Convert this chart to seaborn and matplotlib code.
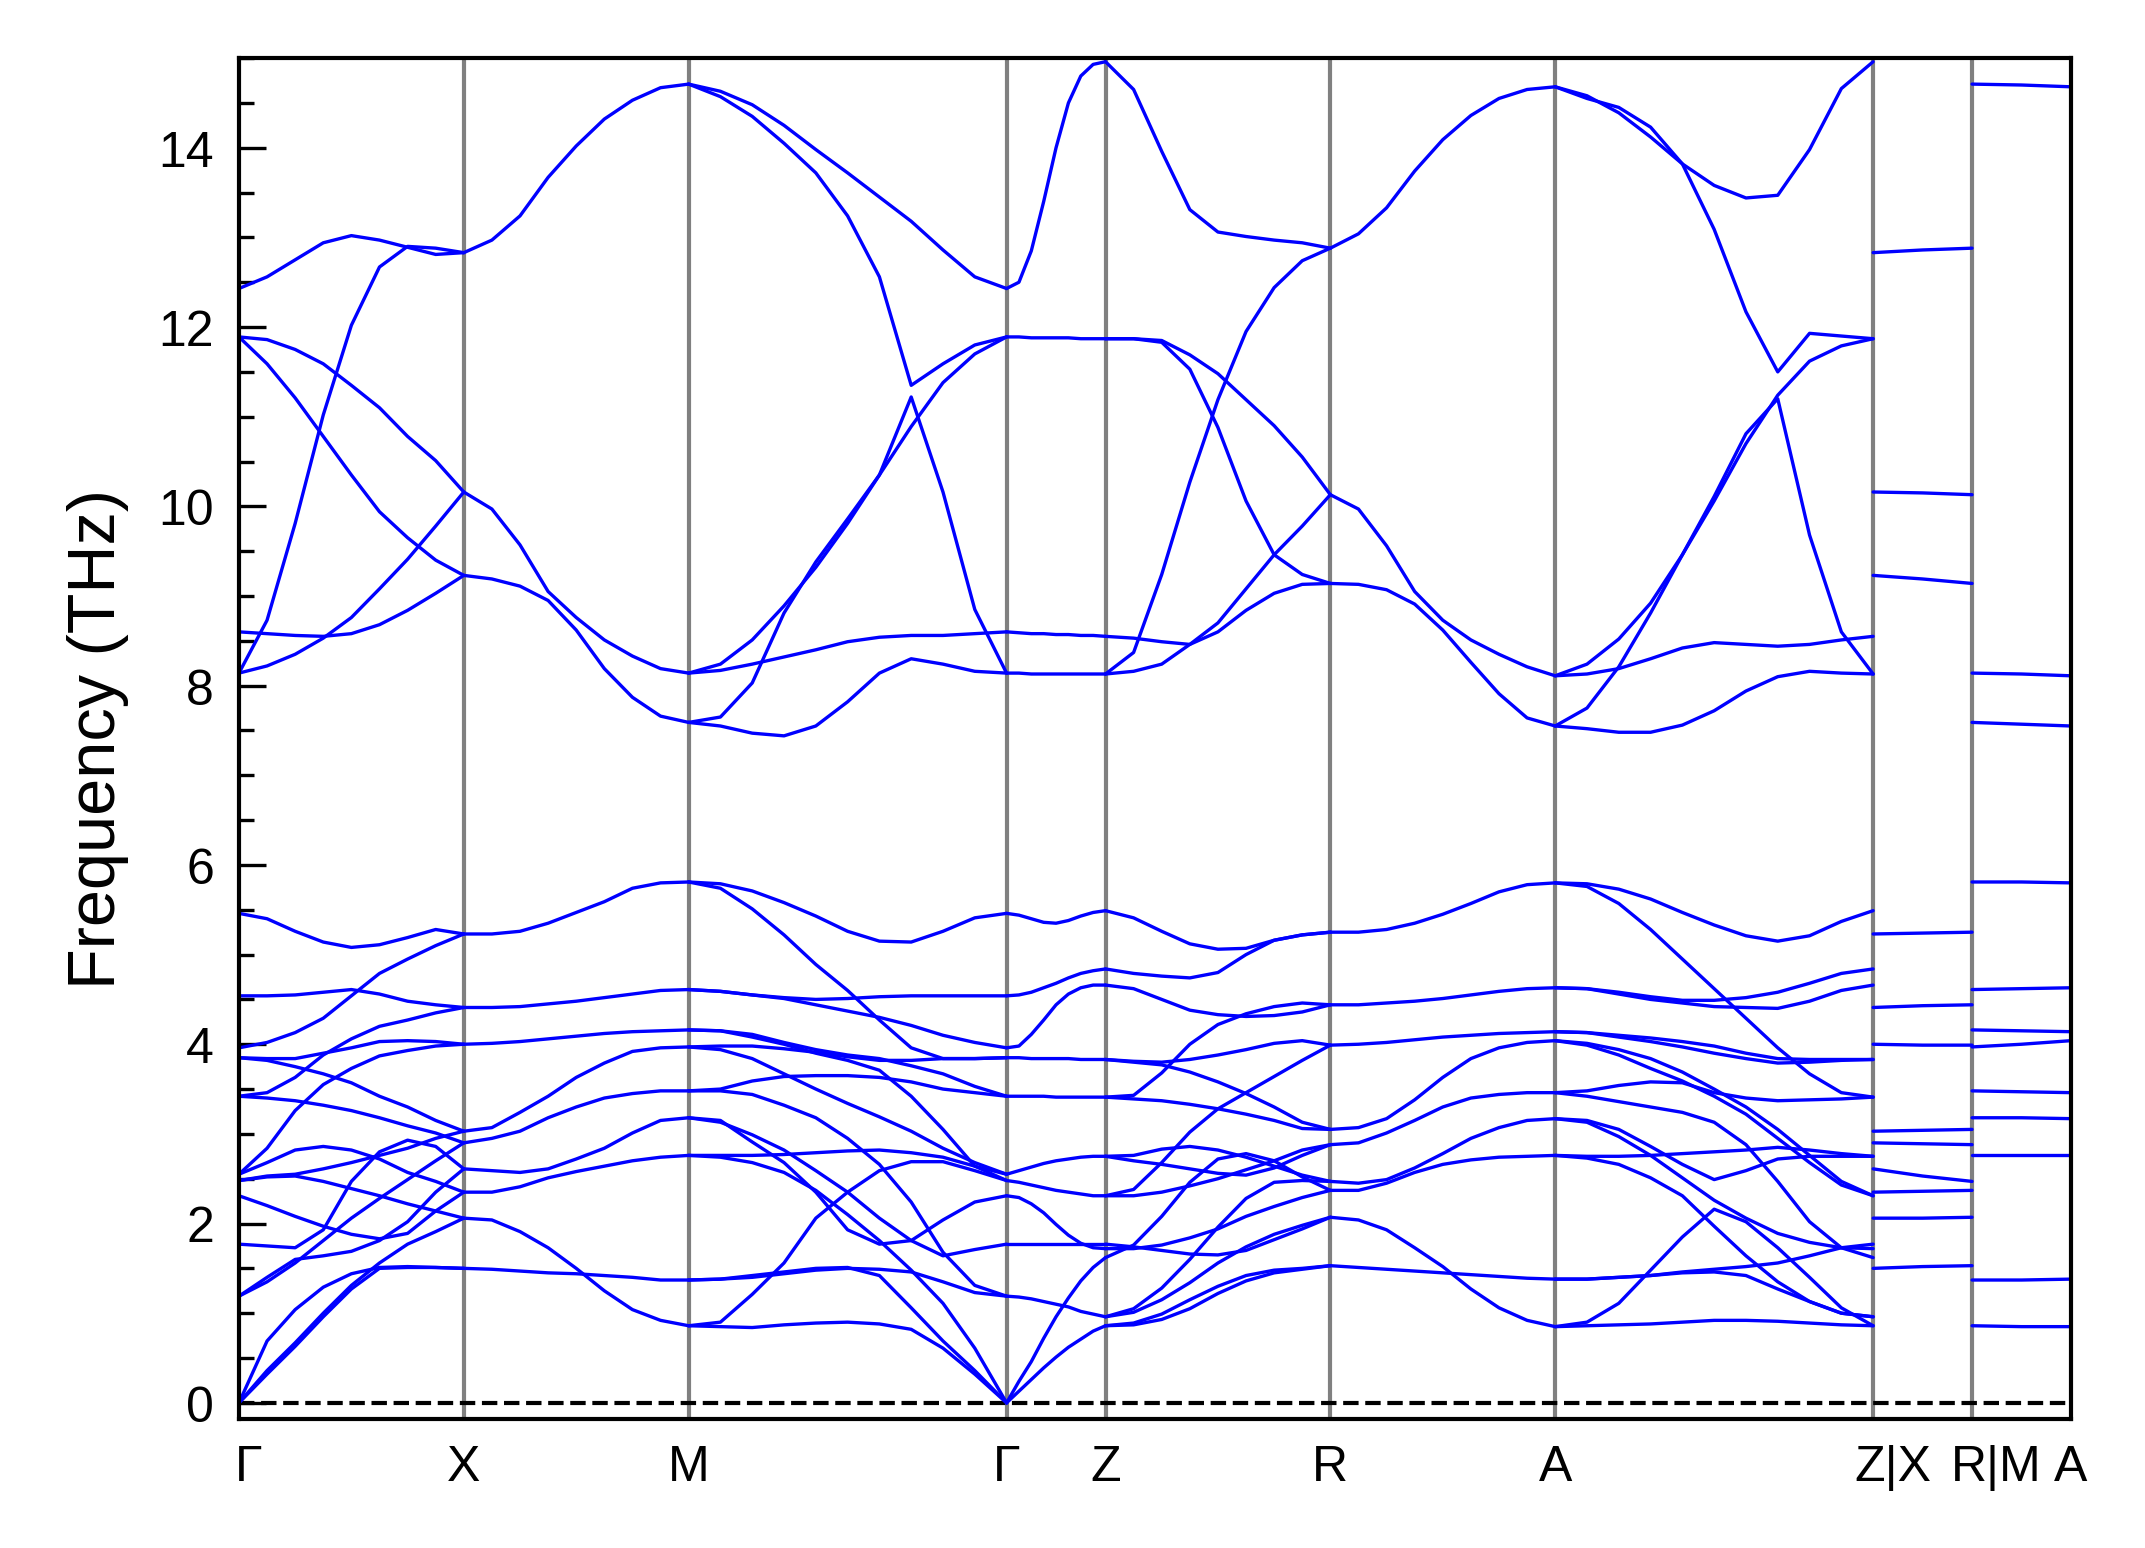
import numpy as np
import pandas as pd
import matplotlib
matplotlib.use("Agg")
import matplotlib.pyplot as plt
from matplotlib.ticker import MultipleLocator
from matplotlib.transforms import ScaledTranslation
import seaborn as sns

# high-symmetry path
path_labels = ["Γ", "X", "M", "Γ", "Z", "R", "A", "Z|X", "R|M", "A"]
seg_len = [1.0, 1.0, 1.414, 0.44, 1.0, 1.0, 1.414, 0.44, 0.44]

# frequencies (THz) read along each segment, one list per band
gx_low = [
    [5.46, 5.40, 5.26, 5.14, 5.08, 5.11, 5.19, 5.28, 5.23],
    [4.54, 4.54, 4.55, 4.58, 4.61, 4.56, 4.48, 4.44, 4.41],
    [3.96, 4.02, 4.13, 4.29, 4.54, 4.79, 4.95, 5.10, 5.23],
    [3.85, 3.84, 3.84, 3.90, 3.96, 4.03, 4.04, 4.03, 4.00],
    [3.42, 3.46, 3.63, 3.88, 4.06, 4.20, 4.27, 4.35, 4.41],
    [3.85, 3.82, 3.75, 3.67, 3.57, 3.42, 3.30, 3.15, 3.03],
    [3.42, 3.40, 3.37, 3.32, 3.26, 3.18, 3.09, 3.01, 2.90],
    [2.55, 2.84, 3.26, 3.55, 3.73, 3.87, 3.93, 3.98, 4.00],
    [2.55, 2.68, 2.82, 2.86, 2.82, 2.72, 2.57, 2.47, 2.35],
    [2.48, 2.53, 2.55, 2.61, 2.68, 2.76, 2.84, 2.95, 3.03],
    [2.48, 2.52, 2.53, 2.47, 2.39, 2.31, 2.22, 2.14, 2.06],
    [2.31, 2.20, 2.08, 1.97, 1.88, 1.83, 1.89, 2.14, 2.35],
    [1.77, 1.75, 1.73, 1.93, 2.47, 2.80, 2.93, 2.86, 2.61],
    [1.19, 1.40, 1.60, 1.64, 1.69, 1.81, 2.02, 2.35, 2.61],
    [1.19, 1.35, 1.56, 1.81, 2.06, 2.28, 2.49, 2.70, 2.90],
    [0.00, 0.69, 1.04, 1.29, 1.44, 1.51, 1.52, 1.51, 1.50],
    [0.00, 0.36, 0.67, 1.00, 1.31, 1.56, 1.77, 1.91, 2.06],
    [0.00, 0.32, 0.63, 0.96, 1.27, 1.50, 1.51, 1.51, 1.50],
]
gx_high = [
    [12.43, 12.56, 12.75, 12.94, 13.02, 12.97, 12.89, 12.81, 12.83],
    [8.14, 8.73, 9.81, 11.02, 12.02, 12.67, 12.90, 12.88, 12.83],
    [11.89, 11.86, 11.75, 11.59, 11.35, 11.10, 10.78, 10.51, 10.16],
    [11.89, 11.59, 11.21, 10.78, 10.35, 9.94, 9.65, 9.40, 9.23],
    [8.60, 8.58, 8.56, 8.55, 8.58, 8.68, 8.84, 9.03, 9.23],
    [8.14, 8.22, 8.35, 8.53, 8.76, 9.08, 9.41, 9.78, 10.16],
]
xm_bands = [
    [5.23, 5.23, 5.26, 5.35, 5.47, 5.59, 5.74, 5.80, 5.81],
    [4.41, 4.41, 4.42, 4.45, 4.48, 4.52, 4.56, 4.60, 4.61],
    [4.00, 4.01, 4.03, 4.06, 4.09, 4.12, 4.14, 4.15, 4.16],
    [3.03, 3.07, 3.24, 3.42, 3.63, 3.79, 3.92, 3.96, 3.97],
    [2.90, 2.95, 3.03, 3.18, 3.30, 3.40, 3.45, 3.48, 3.48],
    [2.61, 2.59, 2.57, 2.61, 2.72, 2.84, 3.01, 3.15, 3.18],
    [2.35, 2.35, 2.41, 2.51, 2.58, 2.64, 2.70, 2.74, 2.76],
    [2.06, 2.04, 1.91, 1.73, 1.50, 1.25, 1.04, 0.92, 0.86],
    [1.50, 1.49, 1.47, 1.45, 1.44, 1.42, 1.40, 1.37, 1.37],
    [12.83, 12.97, 13.24, 13.67, 14.02, 14.32, 14.53, 14.67, 14.71],
    [10.16, 9.97, 9.57, 9.05, 8.76, 8.51, 8.33, 8.19, 8.14],
    [9.23, 9.19, 9.11, 8.95, 8.62, 8.19, 7.87, 7.66, 7.59],
]
mg_low = [
    [5.81, 5.79, 5.71, 5.58, 5.43, 5.26, 5.15, 5.14, 5.26, 5.41, 5.46],
    [5.81, 5.74, 5.51, 5.22, 4.89, 4.60, 4.27, 3.96, 3.84, 3.84, 3.85],
    [4.61, 4.59, 4.55, 4.52, 4.50, 4.51, 4.53, 4.54, 4.54, 4.54, 4.54],
    [4.61, 4.59, 4.55, 4.51, 4.44, 4.37, 4.30, 4.21, 4.10, 4.02, 3.96],
    [4.16, 4.15, 4.11, 4.02, 3.94, 3.88, 3.84, 3.76, 3.67, 3.53, 3.42],
    [4.16, 4.15, 4.08, 4.00, 3.90, 3.82, 3.71, 3.42, 3.05, 2.64, 2.48],
    [3.97, 3.98, 3.98, 3.95, 3.91, 3.86, 3.82, 3.82, 3.84, 3.84, 3.85],
    [3.97, 3.94, 3.84, 3.67, 3.50, 3.34, 3.19, 3.03, 2.84, 2.68, 2.55],
    [3.48, 3.50, 3.59, 3.64, 3.65, 3.65, 3.63, 3.58, 3.50, 3.46, 3.42],
    [3.48, 3.48, 3.44, 3.32, 3.18, 2.95, 2.66, 2.24, 1.68, 1.31, 1.19],
    [3.18, 3.15, 2.91, 2.68, 2.35, 1.93, 1.77, 1.81, 2.04, 2.24, 2.31],
    [3.18, 3.13, 2.99, 2.82, 2.59, 2.35, 2.06, 1.81, 1.64, 1.71, 1.77],
    [2.76, 2.76, 2.76, 2.77, 2.79, 2.81, 2.82, 2.79, 2.74, 2.64, 2.55],
    [2.76, 2.74, 2.68, 2.57, 2.37, 2.10, 1.81, 1.48, 1.11, 0.61, 0.00],
    [1.37, 1.38, 1.40, 1.44, 1.48, 1.50, 1.49, 1.46, 1.35, 1.23, 1.19],
    [1.37, 1.38, 1.42, 1.46, 1.50, 1.51, 1.42, 1.06, 0.69, 0.36, 0.00],
    [0.86, 0.90, 1.21, 1.56, 2.06, 2.35, 2.59, 2.69, 2.69, 2.59, 2.48],
    [0.86, 0.85, 0.84, 0.87, 0.89, 0.90, 0.88, 0.82, 0.61, 0.32, 0.00],
]
mg_high = [
    [14.71, 14.63, 14.48, 14.25, 13.98, 13.72, 13.45, 13.18, 12.86, 12.56, 12.43],
    [14.71, 14.57, 14.35, 14.05, 13.72, 13.24, 12.56, 11.35, 11.59, 11.80, 11.89],
    [7.59, 7.65, 8.03, 8.81, 9.38, 9.86, 10.35, 11.22, 10.16, 8.85, 8.14],
    [8.14, 8.24, 8.51, 8.89, 9.32, 9.81, 10.35, 10.89, 11.38, 11.70, 11.89],
    [7.59, 7.55, 7.47, 7.44, 7.55, 7.82, 8.14, 8.30, 8.24, 8.16, 8.14],
    [8.14, 8.17, 8.24, 8.32, 8.40, 8.49, 8.54, 8.56, 8.56, 8.58, 8.60],
]
gz_low = [
    [5.46, 5.44, 5.40, 5.36, 5.35, 5.38, 5.43, 5.47, 5.49],
    [4.54, 4.55, 4.58, 4.63, 4.68, 4.74, 4.79, 4.82, 4.84],
    [3.96, 3.98, 4.11, 4.27, 4.44, 4.56, 4.63, 4.66, 4.66],
    [3.85, 3.85, 3.84, 3.84, 3.84, 3.84, 3.83, 3.83, 3.83],
    [3.42, 3.42, 3.42, 3.42, 3.41, 3.41, 3.41, 3.41, 3.41],
    [2.55, 2.59, 2.63, 2.67, 2.70, 2.72, 2.74, 2.75, 2.75],
    [2.48, 2.46, 2.43, 2.40, 2.37, 2.35, 2.33, 2.31, 2.31],
    [2.31, 2.29, 2.22, 2.12, 1.99, 1.87, 1.78, 1.73, 1.72],
    [1.77, 1.77, 1.77, 1.77, 1.77, 1.77, 1.77, 1.77, 1.77],
    [1.19, 1.18, 1.16, 1.13, 1.10, 1.07, 1.02, 0.99, 0.96],
    [0.00, 0.13, 0.26, 0.39, 0.51, 0.62, 0.71, 0.80, 0.86],
    [0.00, 0.24, 0.46, 0.72, 0.96, 1.17, 1.36, 1.51, 1.62],
]
gz_high = [
    [12.43, 12.50, 12.85, 13.40, 14.00, 14.50, 14.80, 14.93, 14.96],
    [11.89, 11.89, 11.88, 11.88, 11.88, 11.88, 11.87, 11.87, 11.87],
    [8.60, 8.59, 8.58, 8.58, 8.57, 8.57, 8.56, 8.56, 8.55],
    [8.14, 8.14, 8.13, 8.13, 8.13, 8.13, 8.13, 8.13, 8.13],
]
zr_low = [
    [5.49, 5.41, 5.26, 5.12, 5.06, 5.07, 5.16, 5.22, 5.25],
    [4.84, 4.79, 4.76, 4.74, 4.80, 5.00, 5.16, 5.22, 5.25],
    [4.66, 4.62, 4.50, 4.38, 4.33, 4.31, 4.32, 4.36, 4.44],
    [3.41, 3.43, 3.68, 4.00, 4.22, 4.34, 4.42, 4.46, 4.44],
    [3.83, 3.81, 3.80, 3.83, 3.88, 3.94, 4.01, 4.04, 3.99],
    [3.83, 3.80, 3.77, 3.69, 3.58, 3.45, 3.30, 3.13, 3.05],
    [3.41, 3.39, 3.37, 3.33, 3.28, 3.22, 3.15, 3.06, 3.05],
    [2.31, 2.38, 2.68, 3.02, 3.28, 3.46, 3.64, 3.82, 3.99],
    [2.75, 2.76, 2.83, 2.86, 2.82, 2.74, 2.64, 2.54, 2.47],
    [2.75, 2.70, 2.66, 2.61, 2.56, 2.54, 2.62, 2.76, 2.88],
    [2.31, 2.31, 2.35, 2.42, 2.50, 2.60, 2.70, 2.82, 2.88],
    [1.77, 1.74, 1.70, 1.66, 1.65, 1.70, 1.82, 1.94, 2.07],
    [1.72, 1.72, 1.76, 1.84, 1.94, 2.08, 2.19, 2.29, 2.37],
    [1.62, 1.76, 2.08, 2.46, 2.72, 2.78, 2.70, 2.52, 2.37],
    [0.96, 1.05, 1.28, 1.60, 1.96, 2.28, 2.46, 2.48, 2.47],
    [0.96, 1.01, 1.15, 1.34, 1.56, 1.74, 1.88, 1.98, 2.07],
    [0.86, 0.89, 0.99, 1.15, 1.30, 1.42, 1.48, 1.50, 1.53],
    [0.86, 0.87, 0.93, 1.05, 1.22, 1.36, 1.45, 1.49, 1.53],
]
zr_high = [
    [14.96, 14.65, 13.96, 13.31, 13.06, 13.01, 12.97, 12.94, 12.88],
    [8.13, 8.37, 9.24, 10.27, 11.19, 11.95, 12.44, 12.74, 12.88],
    [11.87, 11.87, 11.83, 11.53, 10.88, 10.06, 9.46, 9.24, 9.14],
    [11.87, 11.87, 11.85, 11.69, 11.48, 11.19, 10.90, 10.55, 10.13],
    [8.55, 8.53, 8.49, 8.46, 8.60, 8.84, 9.03, 9.13, 9.14],
    [8.13, 8.16, 8.24, 8.46, 8.70, 9.08, 9.46, 9.78, 10.13],
]
ra_bands = [
    [5.25, 5.25, 5.28, 5.35, 5.45, 5.57, 5.70, 5.78, 5.80],
    [4.44, 4.44, 4.46, 4.48, 4.51, 4.55, 4.59, 4.62, 4.63],
    [3.99, 4.00, 4.02, 4.05, 4.08, 4.10, 4.12, 4.13, 4.14],
    [3.05, 3.07, 3.17, 3.38, 3.63, 3.84, 3.96, 4.02, 4.04],
    [2.88, 2.90, 3.01, 3.15, 3.30, 3.40, 3.44, 3.46, 3.46],
    [2.47, 2.45, 2.49, 2.62, 2.78, 2.95, 3.07, 3.15, 3.17],
    [2.37, 2.37, 2.45, 2.57, 2.66, 2.71, 2.74, 2.75, 2.76],
    [2.07, 2.04, 1.93, 1.73, 1.52, 1.27, 1.06, 0.92, 0.85],
    [1.53, 1.51, 1.49, 1.47, 1.45, 1.43, 1.41, 1.39, 1.38],
    [12.88, 13.04, 13.33, 13.74, 14.09, 14.36, 14.55, 14.65, 14.68],
    [10.13, 9.97, 9.56, 9.05, 8.73, 8.51, 8.35, 8.21, 8.11],
    [9.14, 9.13, 9.07, 8.91, 8.62, 8.26, 7.91, 7.64, 7.55],
]
az_low = [
    [5.80, 5.79, 5.73, 5.62, 5.47, 5.33, 5.21, 5.15, 5.21, 5.37, 5.49],
    [5.80, 5.76, 5.57, 5.28, 4.95, 4.62, 4.29, 3.96, 3.67, 3.46, 3.41],
    [4.63, 4.62, 4.56, 4.50, 4.46, 4.42, 4.41, 4.40, 4.48, 4.60, 4.66],
    [4.63, 4.62, 4.58, 4.53, 4.49, 4.49, 4.52, 4.58, 4.68, 4.79, 4.84],
    [4.14, 4.13, 4.10, 4.07, 4.03, 3.98, 3.90, 3.84, 3.83, 3.83, 3.83],
    [4.14, 4.13, 4.08, 4.03, 3.97, 3.90, 3.84, 3.79, 3.80, 3.82, 3.83],
    [4.04, 4.01, 3.94, 3.84, 3.69, 3.50, 3.30, 3.05, 2.76, 2.47, 2.31],
    [4.04, 3.99, 3.88, 3.73, 3.59, 3.42, 3.22, 2.95, 2.68, 2.43, 2.31],
    [3.46, 3.48, 3.54, 3.58, 3.57, 3.46, 3.40, 3.37, 3.38, 3.39, 3.41],
    [3.46, 3.42, 3.36, 3.30, 3.24, 3.13, 2.88, 2.47, 2.02, 1.73, 1.62],
    [3.17, 3.15, 3.05, 2.86, 2.66, 2.49, 2.59, 2.72, 2.75, 2.75, 2.75],
    [3.17, 3.13, 2.97, 2.76, 2.51, 2.26, 2.06, 1.89, 1.79, 1.73, 1.72],
    [2.76, 2.75, 2.75, 2.76, 2.78, 2.80, 2.82, 2.85, 2.82, 2.78, 2.75],
    [2.76, 2.73, 2.66, 2.51, 2.31, 1.97, 1.64, 1.35, 1.13, 1.00, 0.96],
    [1.38, 1.38, 1.40, 1.42, 1.46, 1.49, 1.52, 1.56, 1.64, 1.73, 1.77],
    [1.38, 1.38, 1.40, 1.42, 1.45, 1.46, 1.42, 1.27, 1.13, 1.00, 0.96],
    [0.85, 0.90, 1.11, 1.48, 1.85, 2.16, 2.02, 1.73, 1.40, 1.06, 0.86],
    [0.85, 0.86, 0.87, 0.88, 0.90, 0.92, 0.92, 0.91, 0.89, 0.87, 0.86],
]
az_high = [
    [14.68, 14.58, 14.39, 14.12, 13.82, 13.58, 13.44, 13.47, 13.98, 14.66, 14.96],
    [14.68, 14.55, 14.45, 14.23, 13.82, 13.09, 12.17, 11.50, 11.93, 11.90, 11.87],
    [7.55, 7.75, 8.21, 8.81, 9.46, 10.11, 10.81, 11.20, 9.68, 8.60, 8.13],
    [8.11, 8.24, 8.52, 8.92, 9.46, 10.06, 10.70, 11.24, 11.62, 11.79, 11.87],
    [8.11, 8.13, 8.19, 8.30, 8.42, 8.48, 8.46, 8.44, 8.46, 8.51, 8.55],
    [7.55, 7.52, 7.48, 7.48, 7.56, 7.72, 7.94, 8.10, 8.16, 8.14, 8.13],
]
xr_bands = [
    [12.83, 12.86, 12.88], [10.16, 10.15, 10.13], [9.23, 9.19, 9.14],
    [5.23, 5.24, 5.25], [4.41, 4.43, 4.44], [4.00, 3.99, 3.99],
    [3.03, 3.04, 3.05], [2.90, 2.89, 2.88], [2.61, 2.53, 2.47],
    [2.35, 2.36, 2.37], [2.06, 2.06, 2.07], [1.50, 1.52, 1.53],
]
ma_bands = [
    [14.71, 14.70, 14.68], [8.14, 8.13, 8.11], [7.59, 7.57, 7.55],
    [5.81, 5.81, 5.80], [4.61, 4.62, 4.63], [4.16, 4.15, 4.14],
    [3.97, 4.00, 4.04], [3.48, 3.47, 3.46], [3.18, 3.18, 3.17],
    [2.76, 2.76, 2.76], [1.37, 1.37, 1.38], [0.86, 0.85, 0.85],
]

segments = [gx_low + gx_high, xm_bands, mg_low + mg_high, gz_low + gz_high,
            zr_low + zr_high, ra_bands, az_low + az_high, xr_bands, ma_bands]
pos = np.concatenate([[0.0], np.cumsum(seg_len)])

# long table: one line per (segment, band)
frames = []
for i, bands in enumerate(segments):
    for j, row in enumerate(bands):
        k = np.linspace(pos[i], pos[i + 1], len(row))
        frames.append(pd.DataFrame({"k": k, "freq": row, "line": f"{i}-{j}"}))
df = pd.concat(frames, ignore_index=True)

sns.set_style("ticks")
plt.rcParams["font.family"] = ["Liberation Sans", "DejaVu Sans"]
plt.rcParams.update({"text.color": "black", "axes.labelcolor": "black",
                     "xtick.color": "black", "ytick.color": "black"})

fig, ax = plt.subplots(figsize=(7.15, 5.163), dpi=300)
fig.subplots_adjust(left=0.1114, right=0.9655, bottom=0.0833, top=0.9619)

for p in pos[1:-1]:
    ax.axvline(p, color="#808080", lw=1.0, zorder=1)
ax.axhline(0, color="black", ls="--", lw=1.0, zorder=1)

sns.lineplot(data=df, x="k", y="freq", units="line", estimator=None,
             color="blue", lw=0.8, ax=ax, legend=False, zorder=2)

ax.set_xlim(pos[0], pos[-1])
ax.set_ylim(-0.18, 15.0)
ax.set_xticks(pos)
ax.set_xticklabels(path_labels)
ax.set_xlabel("")
ax.set_ylabel("Frequency (THz)", fontsize=16, labelpad=7, color="black")
ax.yaxis.set_major_locator(MultipleLocator(2))
ax.yaxis.set_minor_locator(MultipleLocator(0.5))
ax.tick_params(axis="y", which="major", direction="in", length=6.5, width=0.8,
               labelsize=12, pad=6, colors="black")
ax.tick_params(axis="y", which="minor", direction="in", length=3.5, width=0.8,
               colors="black")
ax.tick_params(axis="x", length=0, labelsize=12, pad=6, colors="black")
for s in ax.spines.values():
    s.set_linewidth(1.0)
    s.set_color("black")

# nudge labels that sit slightly right of their lines in the original
shifts = {0: 2.4, 7: 4.8, 8: 5.8}
for idx, lab in enumerate(ax.get_xticklabels()):
    if idx in shifts:
        lab.set_transform(lab.get_transform() +
                          ScaledTranslation(shifts[idx] / 72, 0, fig.dpi_scale_trans))

fig.savefig("out.png", dpi=300)
